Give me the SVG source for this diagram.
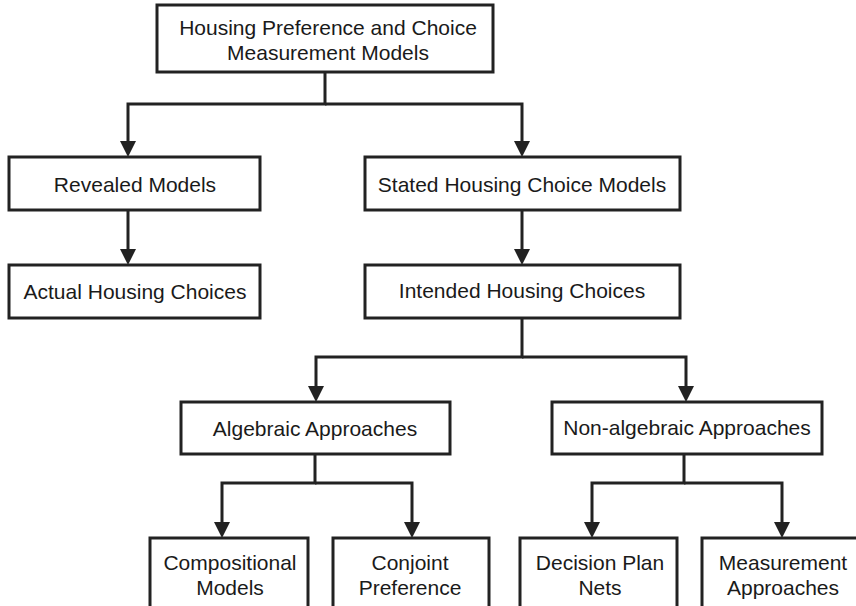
<svg xmlns="http://www.w3.org/2000/svg" width="856" height="606" viewBox="0 0 856 606">
<defs>
<style>
.box{fill:#fff;stroke:#222;stroke-width:3}
.lbl{font-family:"Liberation Sans",Arial,sans-serif;font-size:21px;fill:#1a1a1a;text-anchor:middle}
.con{fill:none;stroke:#222;stroke-width:3}
</style>
<marker id="arr" viewBox="0 0 16 16" refX="10" refY="8" markerWidth="16" markerHeight="16" markerUnits="userSpaceOnUse" orient="auto">
<path d="M0,0 L16,8 L0,16 z" fill="#222"/>
</marker>
</defs>
<rect width="856" height="606" fill="#fff"/>
<g id="connectors">
<path class="con" d="M325,72 V104 H128 V151" marker-end="url(#arr)"/>
<path class="con" d="M325,104 H522 V151" marker-end="url(#arr)"/>
<path class="con" d="M128,210 V259" marker-end="url(#arr)"/>
<path class="con" d="M522,210 V259" marker-end="url(#arr)"/>
<path class="con" d="M522,318 V357 H316 V396" marker-end="url(#arr)"/>
<path class="con" d="M522,357 H686 V396" marker-end="url(#arr)"/>
<path class="con" d="M315,454 V483 H222 V532" marker-end="url(#arr)"/>
<path class="con" d="M315,483 H412 V532" marker-end="url(#arr)"/>
<path class="con" d="M684,454 V483 H592 V532" marker-end="url(#arr)"/>
<path class="con" d="M684,483 H782 V532" marker-end="url(#arr)"/>
</g>
<g id="n-root"><rect class="box" x="157" y="5" width="336" height="67"/>
<text class="lbl" x="328" y="35">Housing Preference and Choice</text>
<text class="lbl" x="328" y="60">Measurement Models</text></g>
<g id="n-revealed"><rect class="box" x="9" y="157" width="251" height="53"/>
<text class="lbl" x="135" y="192">Revealed Models</text></g>
<g id="n-actual"><rect class="box" x="9" y="265" width="251" height="53"/>
<text class="lbl" x="135" y="299">Actual Housing Choices</text></g>
<g id="n-stated"><rect class="box" x="365" y="157" width="315" height="53"/>
<text class="lbl" x="522" y="192">Stated Housing Choice Models</text></g>
<g id="n-intended"><rect class="box" x="365" y="265" width="315" height="53"/>
<text class="lbl" x="522" y="298">Intended Housing Choices</text></g>
<g id="n-algebraic"><rect class="box" x="181" y="402" width="269" height="52"/>
<text class="lbl" x="315" y="436">Algebraic Approaches</text></g>
<g id="n-nonalgebraic"><rect class="box" x="552" y="402" width="270" height="52"/>
<text class="lbl" x="687" y="435">Non-algebraic Approaches</text></g>
<g id="n-compositional"><rect class="box" x="150" y="538" width="158" height="90"/>
<text class="lbl" x="230" y="570">Compositional</text>
<text class="lbl" x="230" y="595">Models</text></g>
<g id="n-conjoint"><rect class="box" x="333" y="538" width="156" height="90"/>
<text class="lbl" x="410" y="570">Conjoint</text>
<text class="lbl" x="410" y="595">Preference</text></g>
<g id="n-decision"><rect class="box" x="520" y="538" width="157" height="90"/>
<text class="lbl" x="600" y="570">Decision Plan</text>
<text class="lbl" x="600" y="595">Nets</text></g>
<g id="n-measurement"><rect class="box" x="702" y="538" width="170" height="90"/>
<text class="lbl" x="783" y="570">Measurement</text>
<text class="lbl" x="783" y="595">Approaches</text></g>
</svg>
